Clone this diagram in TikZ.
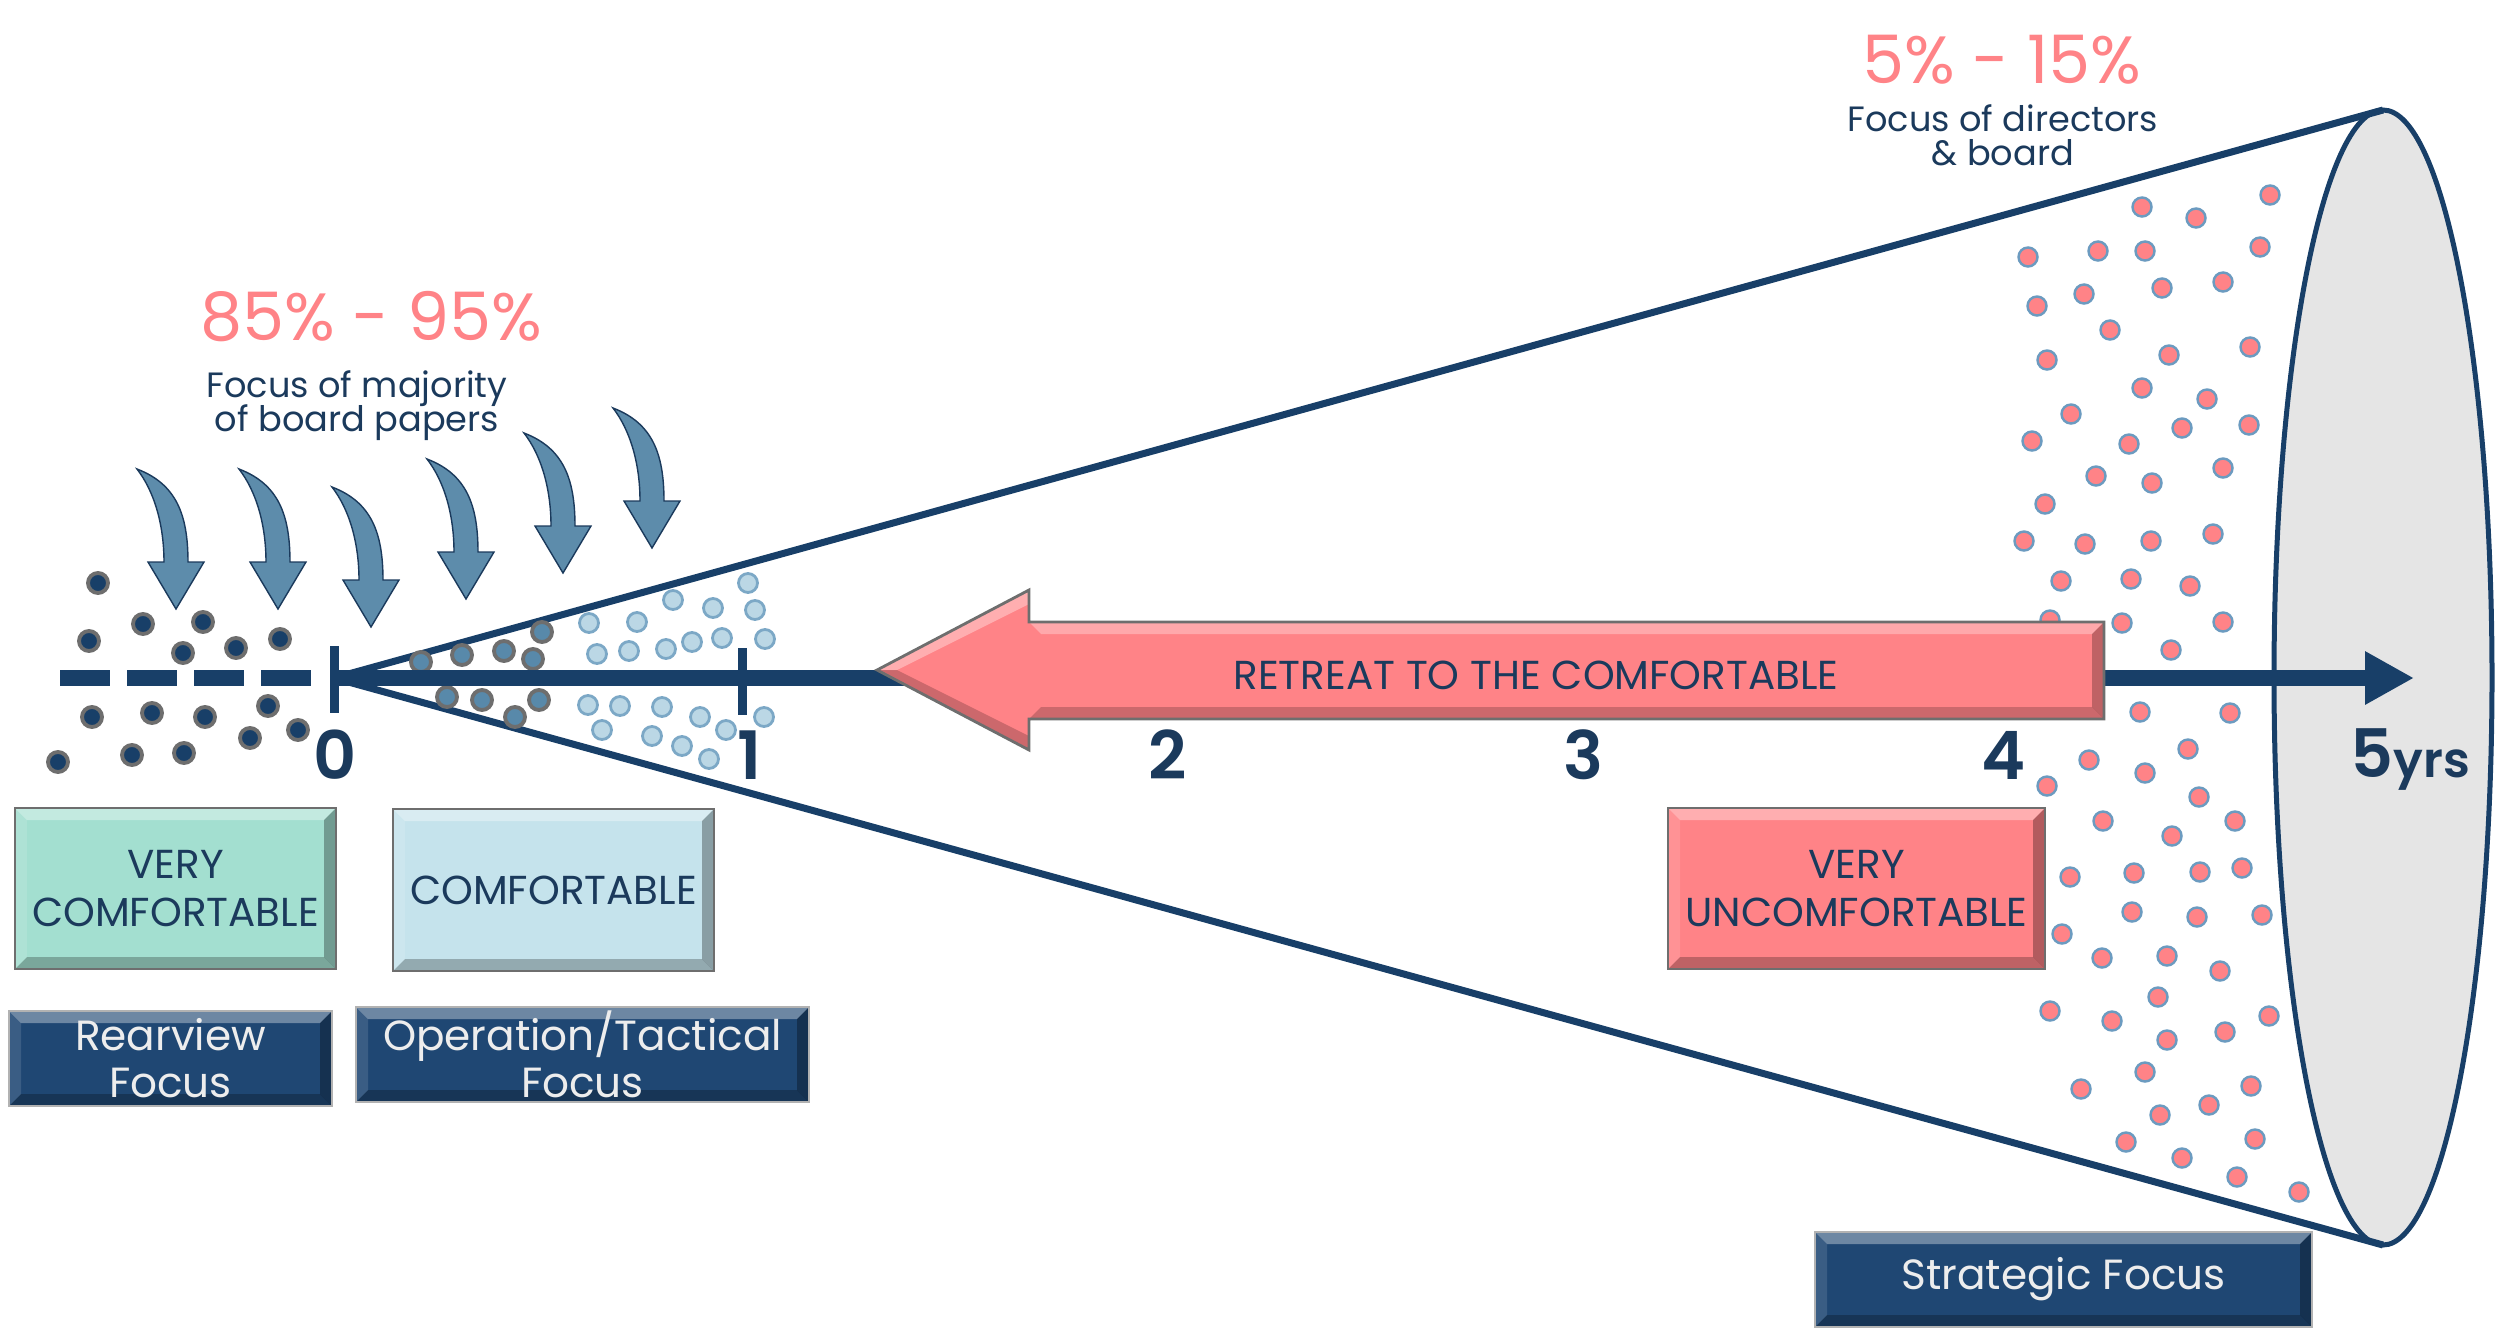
\documentclass[tikz,border=0pt]{standalone}
\usepackage{fontspec}
\setmainfont{Poppins}
\newfontfamily\numfont{Poppins SemiBold}
\usetikzlibrary{arrows.meta}

\definecolor{axisnavy}{RGB}{24,63,104}
\definecolor{inknavy}{RGB}{27,58,92}
\definecolor{salmon}{RGB}{255,131,135}
\definecolor{steel}{RGB}{93,140,171}
\definecolor{mint}{RGB}{163,223,208}
\definecolor{pale}{RGB}{197,227,236}
\definecolor{deepblue}{RGB}{31,71,115}
\definecolor{conegray}{RGB}{229,229,229}
\definecolor{rim}{RGB}{110,110,110}
\definecolor{dotrim}{RGB}{108,155,192}
\definecolor{midblue}{RGB}{88,137,170}
\definecolor{iceblue}{RGB}{187,215,229}
\definecolor{icerim}{RGB}{124,168,198}

\tikzset{
  bevel/.style={path picture={
      \coordinate (bnw) at (path picture bounding box.north west);
      \coordinate (bne) at (path picture bounding box.north east);
      \coordinate (bse) at (path picture bounding box.south east);
      \coordinate (bsw) at (path picture bounding box.south west);
      \fill[white, opacity=0.35] (bnw) -- (bne) -- ([shift={(-0.12,-0.12)}]bne) -- ([shift={(0.12,-0.12)}]bnw) -- cycle;
      \fill[black, opacity=0.25] (bsw) -- (bse) -- ([shift={(-0.12,0.12)}]bse) -- ([shift={(0.12,0.12)}]bsw) -- cycle;
      \fill[black, opacity=0.3] (bne) -- (bse) -- ([shift={(-0.12,0.12)}]bse) -- ([shift={(-0.12,-0.12)}]bne) -- cycle;
      \fill[white, opacity=0.12] (bnw) -- (bsw) -- ([shift={(0.12,0.12)}]bsw) -- ([shift={(0.12,-0.12)}]bnw) -- cycle;
  }},
  lightbox/.style={bevel, draw=rim, line width=0.8pt, inner sep=0pt, align=center, text=inknavy, font={\fontsize{11.5}{13.7}\selectfont}},
  darkbox/.style={bevel, fill=deepblue, draw=gray!60, line width=0.6pt, inner sep=0pt, align=center, text=white!93!black, font={\fontsize{12}{13.4}\selectfont}},
}

\begin{document}
\begin{tikzpicture}[
  darkdot/.style={fill=axisnavy, draw=rim, line width=1.1pt},
  middot/.style={fill=midblue, draw=rim, line width=1.1pt},
  icedot/.style={fill=iceblue, draw=icerim, line width=0.8pt},
  reddot/.style={fill=salmon, draw=dotrim, line width=0.7pt},
  bendarrow/.style={fill=steel, draw=inknavy, line width=0.4pt},
  ticklabel/.style={text=inknavy, anchor=base, font={\fontsize{19}{19}\numfont}},
  pct/.style={text=salmon, anchor=base, font={\fontsize{19}{19}\selectfont}},
  note/.style={text=inknavy, align=center, font={\fontsize{10}{9.6}\selectfont\lineskiplimit=-10pt}}
]
\useasboundingbox (0,0) rectangle (25,13.35);

\filldraw[fill=conegray, draw=axisnavy, line width=0.05cm] (23.83,6.575) ellipse [x radius=1.09, y radius=5.675];
\draw[axisnavy, line width=0.07cm, line join=round] (23.83,12.25) -- (3.34,6.57) -- (23.83,0.90);

\foreach \x/\y in {0.98/7.52, 1.43/7.11, 2.03/7.13, 0.89/6.94, 1.83/6.82, 2.36/6.87, 2.80/6.96, 0.92/6.18,
  1.52/6.22, 2.05/6.18, 2.68/6.29, 2.98/6.05, 2.50/5.97, 0.58/5.73, 1.32/5.80, 1.84/5.82}
  \filldraw[darkdot] (\x,\y) circle (0.1);
\foreach \x/\y in {4.21/6.73, 4.62/6.80, 5.04/6.84, 5.42/7.03, 5.33/6.76, 4.47/6.38, 4.82/6.35, 5.15/6.18, 5.39/6.35}
  \filldraw[middot] (\x,\y) circle (0.1);
\foreach \x/\y in {5.89/7.12, 6.37/7.13, 6.73/7.35, 7.13/7.27, 7.48/7.52, 7.55/7.25, 5.97/6.81, 6.29/6.84,
  6.66/6.86, 6.92/6.93, 7.22/6.97, 7.65/6.96, 5.88/6.30, 6.20/6.29, 6.62/6.28, 7.00/6.18, 7.26/6.05,
  7.64/6.18, 6.02/6.05, 6.52/5.99, 6.82/5.89, 7.09/5.76}
  \filldraw[icedot] (\x,\y) circle (0.095);
\foreach \x/\y in {21.42/11.28, 21.96/11.17, 22.70/11.40, 20.28/10.78, 20.98/10.84, 21.45/10.84, 22.60/10.88,
  20.37/10.29, 20.84/10.41, 21.62/10.47, 22.23/10.53, 21.10/10.05, 20.47/9.75, 21.69/9.80, 22.50/9.88,
  21.42/9.47, 22.07/9.36, 20.71/9.21, 20.32/8.94, 21.29/8.91, 21.82/9.07, 22.49/9.10, 20.96/8.59,
  21.52/8.52, 22.23/8.67, 20.45/8.31, 20.24/7.94, 20.85/7.91, 21.51/7.94, 22.13/8.01, 20.61/7.54,
  21.31/7.56, 21.90/7.49, 20.50/7.15, 21.22/7.12, 22.23/7.13, 21.71/6.85,
  21.40/6.23, 22.30/6.22, 21.88/5.86, 20.89/5.75, 21.45/5.62, 20.47/5.49, 21.99/5.38, 21.03/5.14,
  22.35/5.14, 21.72/4.99, 20.70/4.58, 21.34/4.62, 22.00/4.63, 22.42/4.67, 21.32/4.23, 21.97/4.18,
  22.62/4.20, 20.62/4.01, 21.02/3.77, 21.67/3.79, 22.20/3.64, 21.58/3.38, 20.50/3.24, 21.12/3.14,
  22.69/3.19, 22.25/3.03, 21.67/2.95, 21.45/2.63, 20.81/2.46, 22.51/2.49, 22.09/2.30, 21.60/2.20,
  21.26/1.93, 22.55/1.96, 21.82/1.77, 22.37/1.58, 22.99/1.43}
  \filldraw[reddot] (\x,\y) circle (0.095);

\draw[axisnavy, line width=0.16cm, dash pattern=on 0.5cm off 0.17cm] (0.60,6.57) -- (3.11,6.57);
\draw[axisnavy, line width=0.16cm, -{Triangle[length=0.49cm, width=0.50cm]}] (3.34,6.57) -- (24.14,6.57);
\draw[axisnavy, line width=0.09cm] (3.34,6.89) -- (3.34,6.22);
\draw[axisnavy, line width=0.09cm] (7.42,6.87) -- (7.42,6.20);

\foreach \tx/\ty in {1.76/7.26, 2.78/7.26, 3.71/7.08, 4.66/7.36, 5.63/7.62, 6.52/7.87}
  \filldraw[bendarrow, shift={(\tx,\ty)}] (-0.39,1.40) .. controls (-0.22,1.18) and (-0.12,0.85) .. (-0.12,0.47)
    -- (-0.28,0.47) -- (0,0) -- (0.28,0.47) -- (0.12,0.47) .. controls (0.12,0.95) and (0,1.25) .. (-0.39,1.40) -- cycle;

\fill[salmon] (8.77,6.65) -- (10.29,7.45) -- (10.29,7.13) -- (21.04,7.13) -- (21.04,6.16) -- (10.29,6.16) -- (10.29,5.85) -- cycle;
\fill[white, opacity=0.3] (10.29,7.13) -- (21.04,7.13) -- (20.92,7.01) -- (10.41,7.01) -- cycle;
\fill[black, opacity=0.2] (10.29,6.16) -- (21.04,6.16) -- (20.92,6.28) -- (10.41,6.28) -- cycle;
\fill[black, opacity=0.25] (21.04,7.13) -- (21.04,6.16) -- (20.92,6.28) -- (20.92,7.01) -- cycle;
\fill[white, opacity=0.35] (8.77,6.65) -- (10.29,7.45) -- (10.29,7.31) -- (8.97,6.65) -- cycle;
\fill[black, opacity=0.2] (8.77,6.65) -- (10.29,5.85) -- (10.29,5.99) -- (8.97,6.65) -- cycle;
\draw[rim, line width=0.8pt, line join=miter] (8.77,6.65) -- (10.29,7.45) -- (10.29,7.13) -- (21.04,7.13) -- (21.04,6.16) -- (10.29,6.16) -- (10.29,5.85) -- cycle;
\node[text=inknavy, font={\fontsize{11.5}{11.5}\selectfont}] (retreat) at (15.36,6.60) {RETREAT TO THE COMFORTABLE};

\node[ticklabel] (lbl0) at (3.35,5.56) {0};
\node[ticklabel] (lbl1) at (7.50,5.56) {1};
\node[ticklabel] (lbl2) at (11.68,5.56) {2};
\node[ticklabel] (lbl3) at (15.83,5.56) {3};
\node[ticklabel] (lbl4) at (20.04,5.56) {4};
\node[ticklabel, anchor=base west, inner sep=0pt] (lbl5) at (23.50,5.58) {5{\fontsize{14}{14}\selectfont yrs}};

\node[pct] (majpct) at (3.71,9.95) {85\% - 95\%};
\node[note] (majtext) at (3.57,9.29) {Focus of majority\\of board papers};
\node[pct] (dirpct) at (20.02,12.52) {5\% - 15\%};
\node[note] (dirtext) at (20.03,12.00) {Focus of directors\\\& board};

\node[lightbox, fill=mint, minimum width=3.21cm, minimum height=1.61cm] (verycomf) at (1.755,4.465) {VERY\\COMFORTABLE};
\node[lightbox, fill=pale, minimum width=3.21cm, minimum height=1.62cm] (comf) at (5.535,4.45) {COMFORTABLE};
\node[lightbox, fill=salmon, minimum width=3.77cm, minimum height=1.61cm] (veryuncomf) at (18.565,4.465) {VERY\\UNCOMFORTABLE};
\node[darkbox, minimum width=3.23cm, minimum height=0.95cm] (rearview) at (1.705,2.765) {Rearview\\Focus};
\node[darkbox, minimum width=4.53cm, minimum height=0.95cm] (tactical) at (5.825,2.805) {Operation/Tactical\\Focus};
\node[darkbox, minimum width=4.97cm, minimum height=0.95cm] (strategic) at (20.635,0.555) {Strategic Focus};
\end{tikzpicture}
\end{document}
